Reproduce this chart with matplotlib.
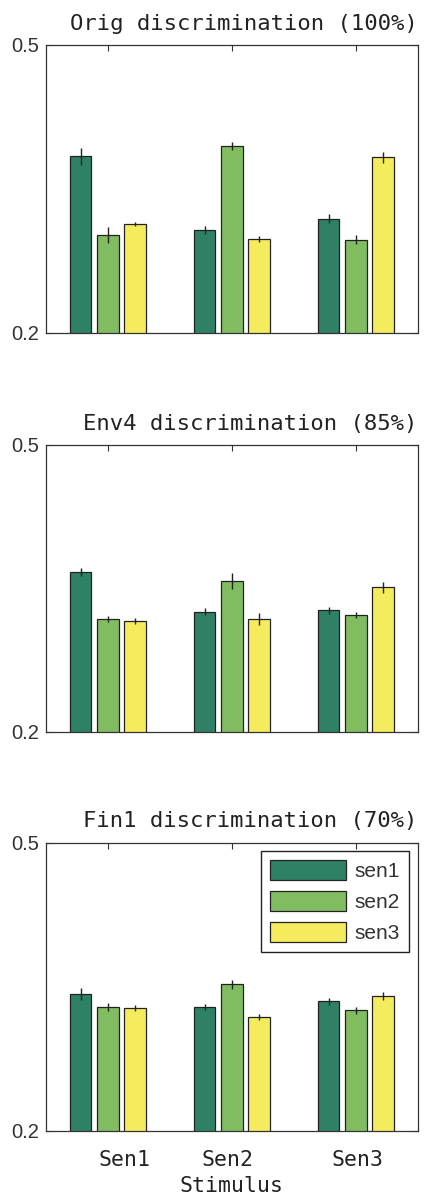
import matplotlib
matplotlib.use("Agg")
import matplotlib.pyplot as plt
import matplotlib.transforms as mtransforms
import numpy as np

stimuli = ["Sen1", "Sen2", "Sen3"]
series = ["sen1", "sen2", "sen3"]
titles = ["Orig discrimination (100%)", "Env4 discrimination (85%)", "Fin1 discrimination (70%)"]

# values[panel][series][stimulus]
orig_vals = [[0.384, 0.307, 0.319],
             [0.302, 0.395, 0.297],
             [0.3135, 0.298, 0.383]]
orig_err = [[0.0087, 0.004, 0.0047],
            [0.0087, 0.004, 0.0047],
            [0.002, 0.0035, 0.0057]]
env_vals = [[0.367, 0.3256, 0.327],
            [0.318, 0.358, 0.322],
            [0.316, 0.318, 0.351]]
env_err = [[0.0042, 0.004, 0.0035],
           [0.003, 0.0084, 0.003],
           [0.003, 0.0065, 0.006]]
fin_vals = [[0.3427, 0.329, 0.3347],
            [0.329, 0.3528, 0.3253],
            [0.3278, 0.3184, 0.3406]]
fin_err = [[0.0064, 0.003, 0.0038],
           [0.0045, 0.0047, 0.0035],
           [0.0035, 0.0035, 0.0043]]

colors = ["#2E8165", "#82BC61", "#F5EC5D"]
ylim = (0.2, 0.5)

fig = plt.figure(figsize=(4.25, 12.03), dpi=100)
positions = [
    [0.108, 0.7232, 0.875, 0.2394],
    [0.108, 0.3918, 0.875, 0.2384],
    [0.108, 0.0601, 0.875, 0.2394],
]
panels = [(orig_vals, orig_err), (env_vals, env_err), (fin_vals, fin_err)]
x = np.arange(1, len(stimuli) + 1)
offset = 0.22
width = 0.175
mono = "DejaVu Sans Mono"
narrow = ["Liberation Sans Narrow", "Liberation Sans", "DejaVu Sans"]

for i, (pos, (vals, errs), title) in enumerate(zip(positions, panels, titles)):
    ax = fig.add_axes(pos)
    for j, (v, e, c, name) in enumerate(zip(vals, errs, colors, series)):
        ax.bar(x + (j - 1) * offset, v, width=width, color=c, edgecolor="#222222",
               linewidth=0.9, label=name, zorder=2)
        ax.errorbar(x + (j - 1) * offset, v, yerr=e, fmt="none", ecolor="#222222",
                    elinewidth=1.0, capsize=0, zorder=3)
    ax.set_xlim(0.5, 3.5)
    ax.set_ylim(*ylim)
    ax.set_yticks([0.2, 0.5])
    ax.set_yticklabels(["0.2", "0.5"], family=narrow, fontsize=14.5, color="#333333")
    ax.set_xticks(x)
    ax.tick_params(axis="both", direction="in", top=True, right=True, length=4,
                   width=0.8, color="#333333", pad=5)
    for s in ax.spines.values():
        s.set_linewidth(0.9)
        s.set_color("#333333")
    ax.set_title(title, loc="right", family=mono, fontsize=16, pad=11, color="#222222")
    if i < 2:
        ax.set_xticklabels([])
    else:
        ax.set_xticklabels(stimuli, family=mono, fontsize=15.5, color="#222222")
        ax.tick_params(axis="x", pad=14)
        shifts = [0.17, -0.04, 0.02]
        for tick, dx in zip(ax.xaxis.get_major_ticks(), shifts):
            lbl = tick.label1
            lbl.set_transform(lbl.get_transform() +
                              mtransforms.ScaledTranslation(dx, 0, fig.dpi_scale_trans))
        ax.set_xlabel("Stimulus", family=mono, fontsize=15.5, color="#222222", labelpad=4)
        leg = ax.legend(loc="upper right", prop={"family": narrow, "size": 15},
                        fancybox=False, framealpha=1, edgecolor="#222222",
                        handlelength=3.65, handleheight=1.06, labelspacing=0.48,
                        handletextpad=0.4, borderaxespad=0.4, borderpad=0.45)
        leg.get_frame().set_linewidth(1.0)
        for t in leg.get_texts():
            t.set_color("#333333")

fig.savefig("out.png", dpi=100)
